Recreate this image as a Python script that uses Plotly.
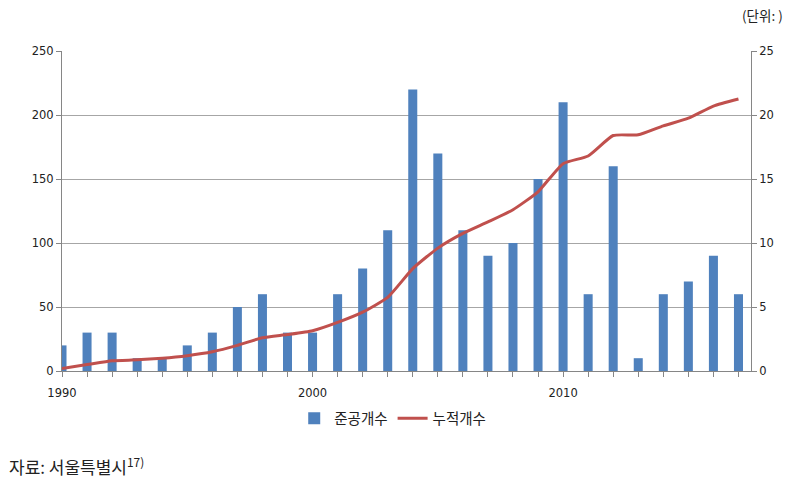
import plotly.graph_objects as go

years = list(range(1990, 2018))
completed = [20, 30, 30, 10, 10, 20, 30, 50, 60, 30, 30, 60, 80, 110, 220, 170, 110, 90, 100, 150, 210, 60, 160, 10, 60, 70, 90, 60]
cumulative = [0.2, 0.5, 0.8, 0.87, 1.0, 1.2, 1.5, 2.0, 2.6, 2.85, 3.15, 3.8, 4.6, 5.75, 8.0, 9.6, 10.75, 11.65, 12.6, 14.0, 16.2, 16.8, 18.4, 18.45, 19.15, 19.75, 20.7, 21.25]
x_tick_vals = [1990, 2000, 2010]
x_tick_labels = ["1990", "2000", "2010"]
left_ticks = [0, 50, 100, 150, 200, 250]
right_ticks = [0, 5, 10, 15, 20, 25]

tick_font = dict(family="DejaVu Sans", size=11.5, color="#222222")
kr_font = "Noto Sans CJK KR"

fig = go.Figure()
fig.add_trace(go.Bar(
    x=years, y=completed, name="준공개수",
    marker=dict(color="#4F81BD", line=dict(width=0)),
    width=0.36, yaxis="y",
))
fig.add_trace(go.Scatter(
    x=years, y=cumulative, name="누적개수", mode="lines",
    line=dict(color="#C0504D", width=3, shape="spline", smoothing=0.5),
    yaxis="y2",
))

fig.update_layout(
    width=808, height=483,
    margin=dict(l=62, r=57, t=51, b=112),
    paper_bgcolor="white", plot_bgcolor="white",
    showlegend=True,
    legend=dict(orientation="h", x=0.48, xanchor="center", y=-0.148, yanchor="middle",
                font=dict(family=kr_font, size=14.5, color="#222222"),
                itemwidth=30, tracegroupgap=0),
    xaxis=dict(
        range=[1990, 2017.5], tickmode="array", tickvals=x_tick_vals, ticktext=x_tick_labels,
        ticks="outside", ticklen=5, tickcolor="#868686", showgrid=False,
        minor=dict(ticks="outside", dtick=1, tick0=1990, ticklen=5, tickcolor="#868686", showgrid=False),
        showline=True, linecolor="#868686", linewidth=1, tickfont=tick_font,
        ticklabelstandoff=6, zeroline=False,
    ),
    yaxis=dict(
        range=[0, 250], tickmode="array", tickvals=left_ticks,
        ticks="outside", ticklen=5, tickcolor="#868686",
        showgrid=True, gridcolor="#A6A6A6", gridwidth=1,
        showline=True, linecolor="#868686", linewidth=1, tickfont=tick_font,
        zeroline=False,
    ),
    yaxis2=dict(
        range=[0, 25], tickmode="array", tickvals=right_ticks, overlaying="y", side="right",
        ticks="outside", ticklen=5, tickcolor="#868686", showgrid=False,
        showline=True, linecolor="#868686", linewidth=1, tickfont=tick_font,
        zeroline=False,
    ),
    bargap=0.64,
)

fig.add_annotation(text="(단위: )", xref="paper", yref="paper", x=1.05, xanchor="right",
                   y=1.0, yshift=36, yanchor="middle", showarrow=False,
                   font=dict(family=kr_font, size=13.5, color="#222222"))
fig.add_annotation(text="자료: 서울특별시<sup>17)</sup>", xref="paper", yref="paper",
                   x=-0.08, xanchor="left", y=0, yshift=-95, yanchor="middle", showarrow=False,
                   font=dict(family=kr_font, size=17, color="#222222"))

fig.write_html("out.html")
